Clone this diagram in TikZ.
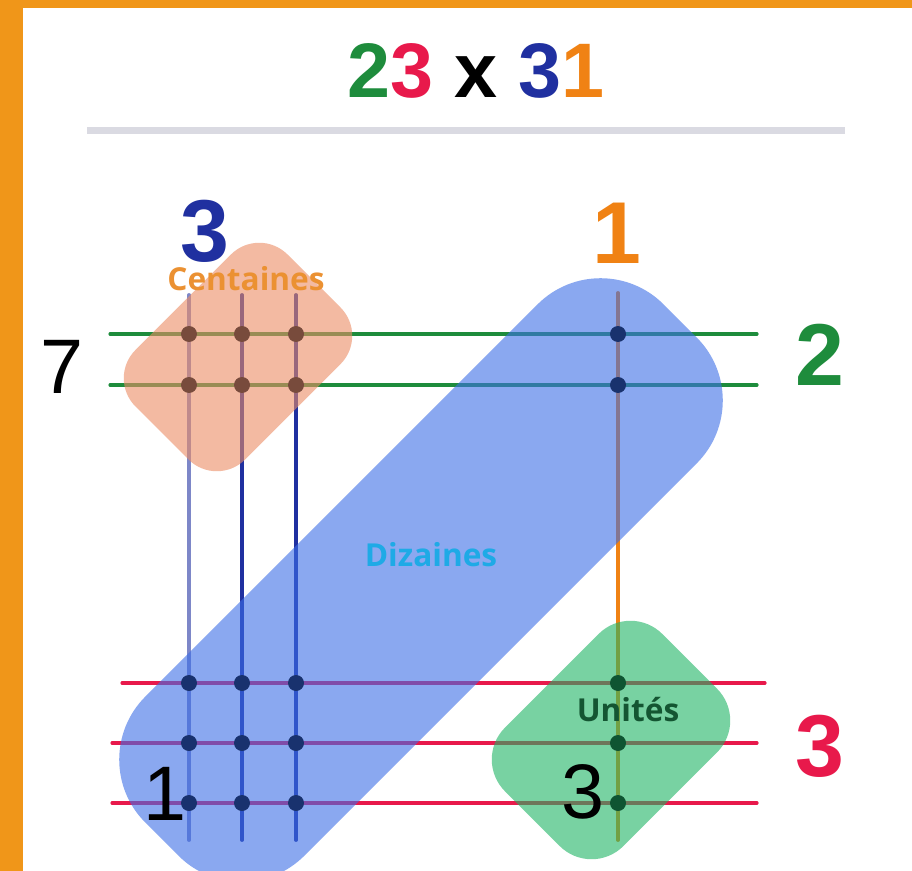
\documentclass[tikz,border=0pt]{standalone}
\usepackage{fontspec}
\setmainfont{Liberation Sans}
\newfontfamily\tagfont{Open Sans}
\usetikzlibrary{positioning}
\definecolor{frameorange}{RGB}{240,150,25}
\definecolor{rulegray}{RGB}{218,218,226}
\definecolor{numgreen}{RGB}{30,140,60}
\definecolor{numred}{RGB}{232,25,75}
\definecolor{numblue}{RGB}{32,48,160}
\definecolor{numorange}{RGB}{240,130,20}
\definecolor{paleblue}{RGB}{125,135,200}
\definecolor{centfill}{RGB}{235,140,100}
\definecolor{dizfill}{RGB}{60,110,230}
\definecolor{unitfill}{RGB}{30,180,100}
\definecolor{centdot}{RGB}{120,75,60}
\definecolor{dizdot}{RGB}{25,50,110}
\definecolor{unitdot}{RGB}{15,85,50}
\definecolor{centtext}{RGB}{235,145,50}
\definecolor{diztext}{RGB}{30,170,230}
\definecolor{unittext}{RGB}{20,85,50}
\tikzset{
    wire/.style={line width=2.2pt, line cap=round},
    rowwire/.style={line width=1.8pt, line cap=round},
    region/.style={rectangle, inner sep=0pt, outer sep=0pt, fill opacity=0.6, rotate=45},
    crossdot/.style={circle, inner sep=0pt, minimum size=0.32cm},
    factor/.style={font=\fontsize{50}{54}\selectfont\bfseries},
    result/.style={font=\fontsize{44}{48}\selectfont, text=black},
    regionlabel/.style={font=\tagfont\fontsize{18}{20}\selectfont\bfseries}
}

\begin{document}
\begin{tikzpicture}[x=0.02cm, y=-0.02cm]
    \useasboundingbox (0,0) rectangle (912,871);
    \fill[white] (0,0) rectangle (912,871);
    \fill[frameorange] (0,0) rectangle (912,8);
    \fill[frameorange] (0,0) rectangle (23,871);

    % title and rule
    \node[font=\fontsize{44}{48}\selectfont\bfseries] (title) at (476,71)
        {{\color{numgreen}2}{\color{numred}3} x {\color{numblue}3}{\color{numorange}1}};
    \coordinate (rule-l) at (87,131);
    \coordinate (rule-r) at (845,131);
    \draw[rulegray, line width=0.14cm] (rule-l) -- (rule-r);

    % columns (31) and rows (23)
    \coordinate (c1-t) at (189,295); \coordinate (c1-b) at (189,840);
    \coordinate (c2-t) at (242,295); \coordinate (c2-b) at (242,840);
    \coordinate (c3-t) at (296,295); \coordinate (c3-b) at (296,840);
    \coordinate (c4-t) at (618,293); \coordinate (c4-b) at (618,840);
    \coordinate (g1-l) at (110,334); \coordinate (g1-r) at (757,334);
    \coordinate (g2-l) at (110,385); \coordinate (g2-r) at (757,385);
    \coordinate (r1-l) at (122,683); \coordinate (r1-r) at (765,683);
    \coordinate (r2-l) at (112,743); \coordinate (r2-r) at (757,743);
    \coordinate (r3-l) at (112,803); \coordinate (r3-r) at (757,803);

    \draw[wire, paleblue] (c1-t) -- (c1-b);
    \draw[wire, numblue] (c2-t) -- (c2-b);
    \draw[wire, numblue] (c3-t) -- (c3-b);
    \draw[wire, numorange] (c4-t) -- (c4-b);
    \draw[rowwire, numgreen] (g1-l) -- (g1-r);
    \draw[rowwire, numgreen] (g2-l) -- (g2-r);
    \draw[rowwire, numred] (r1-l) -- (r1-r);
    \draw[rowwire, numred] (r2-l) -- (r2-r);
    \draw[rowwire, numred] (r3-l) -- (r3-r);

    % groups
    \node[region, fill=centfill, minimum width=4.3cm, minimum height=3.1cm,
        rounded corners=0.8cm] (centaines) at (238,357) {};
    \node[region, fill=dizfill, minimum width=14.66cm, minimum height=4.5cm,
        rounded corners=1.78cm] (dizaines) at (421,580) {};
    \node[region, fill=unitfill, minimum width=4.45cm, minimum height=3.35cm,
        rounded corners=0.9cm] (unites) at (611,740) {};

    % crossings
    \foreach \c in {c1,c2,c3}
        \foreach \r in {g1,g2}
            \node[crossdot, fill=centdot] (d-\c-\r) at (\c-t |- \r-l) {};
    \foreach \c in {c1,c2,c3}
        \foreach \r in {r1,r2,r3}
            \node[crossdot, fill=dizdot] (d-\c-\r) at (\c-t |- \r-l) {};
    \foreach \r in {g1,g2}
        \node[crossdot, fill=dizdot] (d-c4-\r) at (c4-t |- \r-l) {};
    \foreach \r in {r1,r2,r3}
        \node[crossdot, fill=unitdot] (d-c4-\r) at (c4-t |- \r-l) {};

    % factors and partial results
    \node[factor, text=numblue] (tens31) at (205,231) {3};
    \node[factor, text=numorange] (ones31) at (617,233) {1};
    \node[factor, text=numgreen] (tens23) at (820,355) {2};
    \node[factor, text=numred] (ones23) at (820,746) {3};
    \node[result] (hundreds) at (62,367) {7};
    \node[result] (tens) at (165,794) {1};
    \node[result] (ones) at (583,792) {3};

    \node[regionlabel, text=centtext] (centlabel) at (246,279) {Centaines};
    \node[regionlabel, text=diztext] (dizlabel) at (431,555) {Dizaines};
    \node[regionlabel, text=unittext] (unitlabel) at (628,710) {Unités};
\end{tikzpicture}
\end{document}
